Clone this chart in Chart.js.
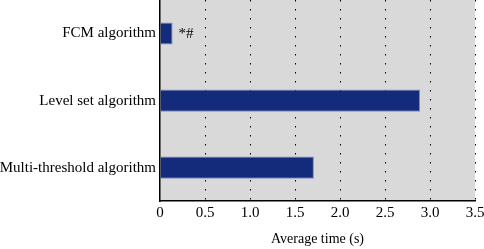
<!DOCTYPE html>
<html>
<head>
<meta charset="utf-8">
<script src="https://cdn.jsdelivr.net/npm/chart.js@4"></script>
<style>
  html, body { margin: 0; padding: 0; background: #fff; }
  #wrap { width: 484px; height: 249px; }
</style>
</head>
<body>
<div id="wrap"><canvas id="time-chart"></canvas></div>
<script>
var categories = ['FCM algorithm', 'Level set algorithm', 'Multi-threshold algorithm'];
var avgTime = [0.14, 2.89, 1.71];
var marks = ['*#', '', ''];
var xTicks = [0, 0.5, 1, 1.5, 2, 2.5, 3, 3.5];

var serif = '"Liberation Serif", "DejaVu Serif", serif';

// grey plot area behind the bars
var plotBg = {
  id: 'plotBg',
  beforeDraw: function (chart) {
    var a = chart.chartArea;
    var ctx = chart.ctx;
    ctx.save();
    ctx.fillStyle = '#d9d9d9';
    ctx.fillRect(a.left, a.top, a.right - a.left, a.bottom - a.top);
    ctx.restore();
  }
};

// significance marks next to the bars
var barMarks = {
  id: 'barMarks',
  afterDatasetsDraw: function (chart) {
    var ctx = chart.ctx;
    var bars = chart.getDatasetMeta(0).data;
    ctx.save();
    ctx.font = '15px ' + serif;
    ctx.fillStyle = '#000';
    ctx.textBaseline = 'middle';
    bars.forEach(function (bar, i) {
      if (marks[i]) ctx.fillText(marks[i], bar.x + 6, bar.y + 1);
    });
    ctx.restore();
  }
};

new Chart(document.getElementById('time-chart'), {
  type: 'bar',
  data: {
    labels: categories,
    datasets: [{
      data: avgTime,
      backgroundColor: '#142a7b',
      borderColor: '#7d8fc4',
      borderWidth: 1,
      borderSkipped: 'left',
      categoryPercentage: 1,
      barPercentage: 0.33
    }]
  },
  plugins: [plotBg, barMarks],
  options: {
    indexAxis: 'y',
    responsive: true,
    maintainAspectRatio: false,
    animation: false,
    layout: { padding: { top: 0, right: 9, left: 0, bottom: 1 } },
    plugins: {
      legend: { display: false },
      tooltip: { enabled: false }
    },
    scales: {
      x: {
        min: 0,
        max: 3.5,
        afterBuildTicks: function (axis) {
          axis.ticks = xTicks.map(function (v) { return { value: v }; });
        },
        afterFit: function (axis) {
          axis.paddingLeft = 0;
          axis.paddingRight = 0;
        },
        ticks: {
          color: '#000',
          font: { family: serif, size: 15 },
          padding: 3
        },
        grid: {
          color: function (c) {
            return c.tick && c.tick.value === 0 ? 'rgba(0,0,0,0)' : '#000';
          },
          lineWidth: 1,
          drawTicks: false
        },
        border: { display: true, color: '#000', width: 1.5, dash: [1.5, 7.5] },
        title: {
          display: true,
          text: 'Average time (s)',
          color: '#000',
          font: { family: serif, size: 14 },
          padding: { top: 6, bottom: 0 }
        }
      },
      y: {
        afterFit: function (axis) {
          axis.width = 160;
          axis.paddingTop = 0;
          axis.paddingBottom = 0;
        },
        ticks: {
          color: '#000',
          font: { family: serif, size: 15 },
          padding: 4
        },
        grid: { display: true, drawOnChartArea: false, drawTicks: false },
        border: { display: true, color: '#000', width: 1.5, dash: [] }
      }
    }
  }
});
</script>
</body>
</html>
